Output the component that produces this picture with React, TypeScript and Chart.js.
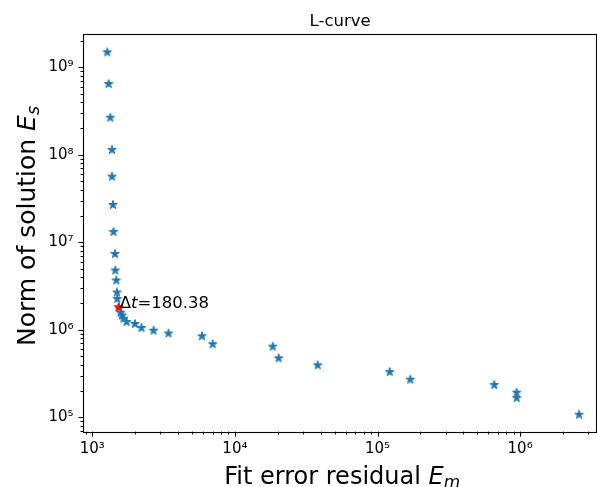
import React, { useEffect, useRef } from "react";
import { Chart, registerables } from "chart.js";

Chart.register(...registerables);

// ---- data ----
const fitResidual = [
  1274, 1303, 1337, 1374, 1374, 1397, 1408, 1443, 1449, 1473,
  1490, 1497, 1532, 1582, 1616, 1655, 1742, 1992, 2213, 2687,
  3423, 5877, 6989, 18410, 20280, 38100, 121800, 169800, 659000, 946000,
  946000, 2588000,
];
const solutionNorm = [
  1.48e9, 6.44e8, 2.65e8, 1.135e8, 5.62e7, 2.67e7, 1.31e7, 7.35e6, 4.76e6, 3.66e6,
  2.67e6, 2.25e6, 1.8e6, 1.567e6, 1.456e6, 1.34e6, 1.228e6, 1.165e6, 1.049e6, 9.77e5,
  9.07e5, 8.43e5, 6.83e5, 6.41e5, 4.72e5, 3.93e5, 3.29e5, 2.69e5, 2.34e5, 1.91e5,
  1.66e5, 1.07e5,
];
const selectedResidual = [1532];
const selectedNorm = [1.8e6];
const selectedDtLabel = "180.38";

const xRange = [865, 3.46e6];
const yRange = [6.84e4, 2.43e9];
const xTickLabels = ["10³", "10⁴", "10⁵", "10⁶"];
const yTickLabels = ["10⁵", "10⁶", "10⁷", "10⁸", "10⁹"];

const titleText = "L-curve";
const xTitle = [
  { t: "Fit error residual ", italic: false, sub: false },
  { t: "E", italic: true, sub: false },
  { t: "m", italic: true, sub: true },
];
const yTitle = [
  { t: "Norm of solution ", italic: false, sub: false },
  { t: "E", italic: true, sub: false },
  { t: "s", italic: true, sub: true },
];

const FONT = "'DejaVu Sans', sans-serif";
const BLUE = "#1f77b4";

function logTicks(min: number, max: number) {
  const out: number[] = [];
  for (let e = Math.floor(Math.log10(min)); e <= Math.ceil(Math.log10(max)); e++) {
    for (let m = 1; m <= 9; m++) {
      const v = m * Math.pow(10, e);
      if (v >= min && v <= max) out.push(v);
    }
  }
  return out;
}

function isDecade(v: number) {
  const l = Math.log10(v);
  return Math.abs(l - Math.round(l)) < 1e-9;
}

function makeStar(color: string, size: number, r: number) {
  const c = document.createElement("canvas");
  c.width = size;
  c.height = size;
  const ctx = c.getContext("2d")!;
  const cx = size / 2;
  const cy = size / 2;
  const ri = r * 0.382;
  ctx.beginPath();
  for (let i = 0; i < 10; i++) {
    const a = -Math.PI / 2 + (i * Math.PI) / 5;
    const rad = i % 2 === 0 ? r : ri;
    const x = cx + rad * Math.cos(a);
    const y = cy + rad * Math.sin(a);
    if (i === 0) ctx.moveTo(x, y);
    else ctx.lineTo(x, y);
  }
  ctx.closePath();
  ctx.fillStyle = color;
  ctx.fill();
  ctx.lineWidth = 1;
  ctx.strokeStyle = color;
  ctx.lineJoin = "miter";
  ctx.stroke();
  return c;
}

type Part = { t: string; italic: boolean; sub: boolean };

function drawParts(ctx: CanvasRenderingContext2D, parts: Part[], size: number, x: number, y: number, center: boolean) {
  const fontOf = (p: Part) => `${p.italic ? "italic " : ""}${p.sub ? size * 0.7 : size}px ${FONT}`;
  let total = 0;
  const widths = parts.map((p) => {
    ctx.font = fontOf(p);
    const w = ctx.measureText(p.t).width;
    total += w;
    return w;
  });
  let cx = center ? x - total / 2 : x;
  parts.forEach((p, i) => {
    ctx.font = fontOf(p);
    ctx.fillText(p.t, cx, y + (p.sub ? size * 0.17 : 0));
    cx += widths[i];
  });
}

const decorPlugin = {
  id: "decor",
  afterDraw(chart: any) {
    const ctx: CanvasRenderingContext2D = chart.ctx;
    const ca = chart.chartArea;
    const xs = chart.scales.x;
    const ys = chart.scales.y;
    ctx.save();
    // tick marks (major longer than minor)
    ctx.strokeStyle = "#000";
    ctx.lineWidth = 1;
    xs.ticks.forEach((t: any) => {
      const px = Math.round(xs.getPixelForValue(t.value)) + 0.5;
      const len = isDecade(t.value) ? 4.9 : 2.8;
      ctx.beginPath();
      ctx.moveTo(px, ca.bottom);
      ctx.lineTo(px, ca.bottom + len);
      ctx.stroke();
    });
    ys.ticks.forEach((t: any) => {
      const py = Math.round(ys.getPixelForValue(t.value)) + 0.5;
      const len = isDecade(t.value) ? 4.9 : 2.8;
      ctx.beginPath();
      ctx.moveTo(ca.left, py);
      ctx.lineTo(ca.left - len, py);
      ctx.stroke();
    });
    // frame
    ctx.lineWidth = 1.1;
    ctx.strokeRect(Math.round(ca.left) + 0.5, Math.round(ca.top) + 0.5, Math.round(ca.right - ca.left) - 1, Math.round(ca.bottom - ca.top));
    // title
    ctx.fillStyle = "#000";
    ctx.textAlign = "center";
    ctx.textBaseline = "alphabetic";
    ctx.font = `16.5px ${FONT}`;
    ctx.fillText(titleText, (ca.left + ca.right) / 2, 25.5);
    // axis titles
    ctx.textAlign = "left";
    drawParts(ctx, xTitle as Part[], 24, (ca.left + ca.right) / 2 + 2, 483.7, true);
    ctx.save();
    ctx.translate(35, 226);
    ctx.rotate(-Math.PI / 2);
    drawParts(ctx, yTitle as Part[], 25, 0, 0, true);
    ctx.restore();
    // annotation of the selected point
    const ax = xs.getPixelForValue(selectedResidual[0]) + 1;
    const ay = ys.getPixelForValue(selectedNorm[0]) + 0.5;
    drawParts(
      ctx,
      [
        { t: "Δ", italic: false, sub: false },
        { t: "t", italic: true, sub: false },
        { t: "=" + selectedDtLabel, italic: false, sub: false },
      ],
      16.5,
      ax,
      ay,
      false
    );
    ctx.restore();
  },
};

export default function App() {
  const ref = useRef<HTMLCanvasElement | null>(null);
  useEffect(() => {
    const canvas = ref.current!;
    const blueStar = makeStar(BLUE, 12, 4.5);
    const redStar = makeStar("#ff0000", 12, 4.5);
    const xTicks = logTicks(xRange[0], xRange[1]);
    const yTicks = logTicks(yRange[0], yRange[1]);
    const chart = new Chart(canvas, {
      type: "scatter",
      data: {
        datasets: [
          {
            label: "selected",
            data: selectedResidual.map((x, i) => ({ x, y: selectedNorm[i] })),
            pointStyle: redStar as any,
            order: 0,
          },
          {
            label: "L-curve",
            data: fitResidual.map((x, i) => ({ x, y: solutionNorm[i] })),
            pointStyle: blueStar as any,
            order: 1,
          },
        ],
      },
      options: {
        animation: false,
        responsive: false,
        devicePixelRatio: 1,
        layout: { autoPadding: false, padding: { top: 33.5, left: 0, right: 0, bottom: 0 } },
        plugins: { legend: { display: false }, tooltip: { enabled: false }, title: { display: false } },
        scales: {
          x: {
            type: "logarithmic",
            min: xRange[0],
            max: xRange[1],
            afterBuildTicks: (s: any) => {
              s.ticks = xTicks.map((v) => ({ value: v, major: isDecade(v) }));
            },
            afterFit: (s: any) => {
              s.height = 487 - 431.7;
              s.paddingLeft = 0;
              s.paddingRight = 0;
            },
            grid: { display: true, drawOnChartArea: false, drawTicks: true, tickLength: 4.9, tickColor: "rgba(0,0,0,0)" },
            border: { display: false },
            ticks: {
              autoSkip: false,
              maxRotation: 0,
              padding: 3.5,
              color: "#000",
              font: { family: FONT, size: 15 },
              callback: (v: any) => {
                const val = Number(v);
                if (!isDecade(val)) return "";
                const e = Math.round(Math.log10(val));
                return xTickLabels[e - 3] ?? "";
              },
            },
          },
          y: {
            type: "logarithmic",
            min: yRange[0],
            max: yRange[1],
            afterBuildTicks: (s: any) => {
              s.ticks = yTicks.map((v) => ({ value: v, major: isDecade(v) }));
            },
            afterFit: (s: any) => {
              s.width = 83.3;
              s.paddingTop = 0;
              s.paddingBottom = 0;
            },
            grid: { display: true, drawOnChartArea: false, drawTicks: true, tickLength: 4.9, tickColor: "rgba(0,0,0,0)" },
            border: { display: false },
            ticks: {
              autoSkip: false,
              padding: 4.9,
              color: "#000",
              font: { family: FONT, size: 15 },
              callback: (v: any) => {
                const val = Number(v);
                if (!isDecade(val)) return "";
                const e = Math.round(Math.log10(val));
                return yTickLabels[e - 5] ?? "";
              },
            },
          },
        },
      },
      plugins: [decorPlugin],
    });
    return () => chart.destroy();
  }, []);
  return (
    <div style={{ position: "absolute", left: 0, top: 0, width: 597, height: 487, background: "#fff" }}>
      <canvas ref={ref} width={597} height={487} style={{ width: 597, height: 487, display: "block" }} />
    </div>
  );
}
